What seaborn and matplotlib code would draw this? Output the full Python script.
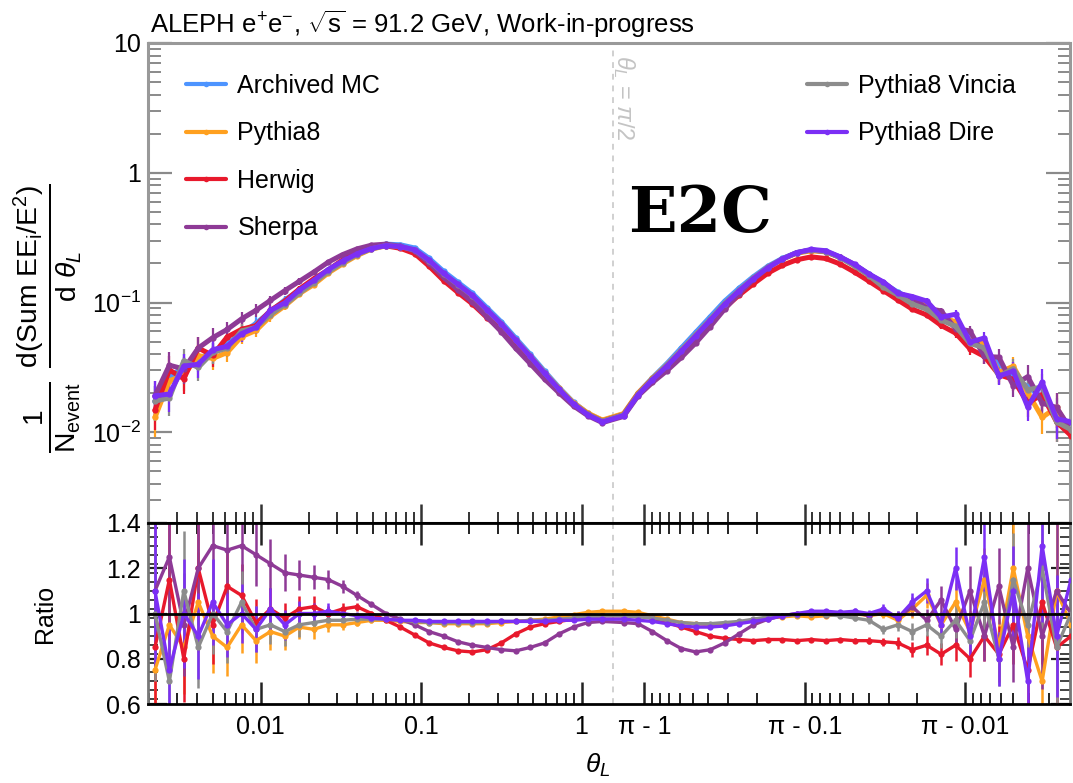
import numpy as np
import pandas as pd
import matplotlib
matplotlib.use("Agg")
import matplotlib.pyplot as plt
import matplotlib.transforms as mtransforms
import seaborn as sns
from matplotlib.ticker import FixedLocator, FixedFormatter, NullFormatter
from matplotlib.lines import Line2D

# ---------------- data ----------------
# bin centres: log10(theta) for the left half, log10(pi - theta) for the right half
log_theta_left = [-2.66, -2.57, -2.48, -2.39, -2.30, -2.21, -2.12, -2.03, -1.94, -1.85,
                  -1.76, -1.67, -1.58, -1.49, -1.40, -1.31, -1.22, -1.13, -1.04, -0.95,
                  -0.86, -0.77, -0.68, -0.59, -0.50, -0.41, -0.32, -0.23, -0.14, -0.05,
                  0.04, 0.13]
log_pim_right = [0.13, 0.04, -0.05, -0.14, -0.23, -0.32, -0.41, -0.50, -0.59, -0.68,
                 -0.77, -0.86, -0.95, -1.04, -1.13, -1.22, -1.31, -1.40, -1.49, -1.58,
                 -1.67, -1.76, -1.85, -1.94, -2.03, -2.12, -2.21, -2.30, -2.39, -2.48,
                 -2.57, -2.66]

# Archived MC, log10 of (1/N dSum/dtheta)
archived_log_left = [-1.76, -1.58, -1.49, -1.43, -1.385, -1.315, -1.24, -1.16, -1.07, -0.98,
                     -0.905, -0.83, -0.75, -0.68, -0.62, -0.575, -0.55, -0.555, -0.58, -0.66,
                     -0.76, -0.845, -0.93, -1.04, -1.15, -1.275, -1.40, -1.53, -1.655, -1.77,
                     -1.855, -1.91]
archived_log_right = [-1.86, -1.70, -1.58, -1.47, -1.35, -1.23, -1.11, -0.99, -0.89, -0.80,
                      -0.72, -0.66, -0.615, -0.595, -0.605, -0.65, -0.71, -0.78, -0.85, -0.92,
                      -0.975, -1.03, -1.09, -1.17, -1.26, -1.37, -1.47, -1.57, -1.65, -1.73,
                      -1.85, -1.98]

# ratios to Archived MC (left half then right half)
ratio_pythia8 = [0.75, 0.95, 0.85, 1.05, 0.90, 0.85, 0.95, 0.88, 0.92, 0.90, 0.94, 0.93, 0.95, 0.95,
                 0.96, 0.97, 0.97, 0.965, 0.96, 0.96, 0.955, 0.955, 0.955, 0.955, 0.96, 0.965, 0.97,
                 0.975, 0.985, 0.995, 1.005, 1.01,
                 1.01, 1.005, 0.99, 0.975, 0.96, 0.955, 0.95, 0.955, 0.96, 0.97, 0.98, 0.985, 0.99,
                 0.985, 0.99, 0.995, 1.0, 0.99, 1.0, 0.97, 1.02, 1.08, 0.95, 1.05, 0.92, 1.15, 0.85,
                 1.2, 0.9, 0.7, 1.1, 0.95]
ratio_herwig = [0.85, 1.15, 0.80, 1.20, 0.95, 1.12, 1.08, 0.96, 1.02, 0.98, 1.02, 1.03, 1.00, 1.02,
                1.03, 1.00, 0.97, 0.94, 0.905, 0.87, 0.85, 0.835, 0.83, 0.84, 0.87, 0.91, 0.94,
                0.955, 0.965, 0.975, 0.985, 0.99,
                0.99, 0.99, 0.98, 0.96, 0.94, 0.92, 0.90, 0.89, 0.885, 0.88, 0.885, 0.885, 0.88,
                0.885, 0.88, 0.885, 0.88, 0.88, 0.875, 0.87, 0.84, 0.86, 0.82, 0.86, 0.80, 0.90,
                0.82, 0.95, 0.75, 1.05, 0.85, 0.90]
ratio_sherpa = [1.10, 1.25, 0.95, 1.20, 1.30, 1.28, 1.30, 1.26, 1.22, 1.18, 1.17, 1.16, 1.15, 1.12,
                1.08, 1.04, 1.00, 0.975, 0.95, 0.92, 0.90, 0.875, 0.86, 0.85, 0.84, 0.835, 0.85,
                0.87, 0.91, 0.94, 0.96, 0.965,
                0.96, 0.955, 0.92, 0.88, 0.845, 0.83, 0.84, 0.87, 0.91, 0.95, 0.975, 0.99, 1.0,
                1.0, 0.995, 1.0, 1.005, 0.99, 1.01, 0.98, 1.03, 0.97, 1.06, 0.93, 1.1, 0.9, 1.12,
                0.85, 1.2, 0.9, 1.1, 1.0]
ratio_vincia = [1.00, 0.70, 1.10, 0.85, 1.00, 0.92, 1.05, 0.93, 0.95, 0.92, 0.95, 0.96, 0.97, 0.97,
                0.975, 0.975, 0.975, 0.97, 0.965, 0.96, 0.96, 0.96, 0.96, 0.96, 0.965, 0.965, 0.97,
                0.97, 0.975, 0.98, 0.985, 0.99,
                0.99, 0.985, 0.98, 0.97, 0.96, 0.955, 0.955, 0.96, 0.965, 0.975, 0.985, 0.99, 0.995,
                1.0, 0.995, 0.99, 0.98, 0.97, 0.93, 0.95, 0.92, 0.95, 0.90, 0.97, 0.88, 1.05, 0.80,
                1.15, 0.95, 1.20, 0.85, 1.00]
ratio_dire = [1.10, 0.75, 1.00, 0.90, 1.05, 0.95, 1.00, 0.93, 1.02, 0.95, 1.00, 1.00, 1.01, 1.00,
              0.99, 0.98, 0.975, 0.97, 0.97, 0.965, 0.965, 0.965, 0.965, 0.965, 0.965, 0.965, 0.965,
              0.965, 0.97, 0.97, 0.975, 0.975,
              0.975, 0.97, 0.965, 0.955, 0.945, 0.94, 0.94, 0.945, 0.955, 0.965, 0.975, 0.99, 1.0,
              1.01, 1.01, 1.005, 1.01, 1.0, 1.02, 0.98, 1.05, 1.10, 0.95, 1.20, 0.90, 1.25, 0.80,
              1.10, 0.70, 1.30, 0.90, 1.15]
rel_err = [0.30, 0.27, 0.24, 0.21, 0.18, 0.15, 0.13, 0.11, 0.09, 0.07, 0.055, 0.045, 0.035, 0.025,
           0.018, 0.012, 0.008, 0.006, 0.005, 0.004, 0.004, 0.004, 0.004, 0.004, 0.004, 0.004,
           0.004, 0.004, 0.004, 0.004, 0.004, 0.004,
           0.004, 0.004, 0.004, 0.004, 0.004, 0.004, 0.004, 0.004, 0.004, 0.004, 0.004, 0.004,
           0.005, 0.006, 0.008, 0.010, 0.012, 0.016, 0.020, 0.030, 0.040, 0.050, 0.060, 0.080,
           0.100, 0.120, 0.150, 0.180, 0.220, 0.260, 0.300, 0.350]

generators = ["Archived MC", "Pythia8", "Herwig", "Sherpa", "Pythia8 Vincia", "Pythia8 Dire"]
colors = ["#4d94ff", "#ffa01f", "#e8192c", "#8e3a96", "#8c8c8c", "#7b2ff5"]
x_tick_labels = ["0.01", "0.1", "1", "π - 1", "π - 0.1", "π - 0.01"]

# ---------------- build table ----------------
theta = np.concatenate([10.0 ** np.array(log_theta_left),
                        np.pi - 10.0 ** np.array(log_pim_right)])
archived = 10.0 ** np.concatenate([archived_log_left, archived_log_right])
ratios = {"Archived MC": np.ones_like(theta), "Pythia8": np.array(ratio_pythia8),
          "Herwig": np.array(ratio_herwig), "Sherpa": np.array(ratio_sherpa),
          "Pythia8 Vincia": np.array(ratio_vincia), "Pythia8 Dire": np.array(ratio_dire)}
err = np.array(rel_err)
frames = []
for g in generators:
    r = ratios[g]
    frames.append(pd.DataFrame({"theta": theta, "value": archived * r, "ratio": r,
                                "err": err, "gen": g}))
df = pd.concat(frames, ignore_index=True)
palette = dict(zip(generators, colors))

# ---------------- style ----------------
sns.set_theme(style="ticks")
plt.rcParams["font.family"] = ["Liberation Sans", "DejaVu Sans"]
plt.rcParams["mathtext.fontset"] = "custom"
plt.rcParams["mathtext.rm"] = "Liberation Sans"
plt.rcParams["mathtext.it"] = "Liberation Sans:italic"
plt.rcParams["mathtext.bf"] = "Liberation Sans:bold"
for k in ("text.color", "axes.labelcolor", "xtick.labelcolor", "ytick.labelcolor"):
    plt.rcParams[k] = "black"

HALF = np.log10(np.pi / 2)


def fwd(t):
    t = np.asarray(t, dtype=float)
    with np.errstate(all="ignore"):
        a = np.log10(t)
        b = 2 * HALF - np.log10(np.pi - t)
    return np.where(t <= np.pi / 2, a, b)


def inv(u):
    u = np.asarray(u, dtype=float)
    with np.errstate(all="ignore"):
        a = 10.0 ** u
        b = np.pi - 10.0 ** (2 * HALF - u)
    return np.where(u <= HALF, a, b)


W, H = 1073, 783
fig = plt.figure(figsize=(W / 100, H / 100), dpi=100)
ax = fig.add_axes([148 / W, 1 - 523 / H, 922 / W, 480 / H])
axr = fig.add_axes([148 / W, 1 - 704 / H, 922 / W, 181 / H])

# ---------------- top panel ----------------
for g in generators:
    d = df[df.gen == g]
    ax.errorbar(d.theta, d.value, yerr=d.value * d.err, fmt="none", ecolor=palette[g],
                elinewidth=1.6, zorder=2)
sns.lineplot(data=df, x="theta", y="value", hue="gen", hue_order=generators, palette=palette,
             estimator=None, sort=True, marker="o", markersize=4.5, markeredgewidth=0,
             linewidth=3.6, legend=False, ax=ax, zorder=3)

# ---------------- ratio panel ----------------
dr = df[df.gen != "Archived MC"]
for g in generators[1:]:
    d = dr[dr.gen == g]
    axr.errorbar(d.theta, d.ratio, yerr=d.ratio * d.err, fmt="none", ecolor=palette[g],
                 elinewidth=1.8, zorder=2)
sns.lineplot(data=dr, x="theta", y="ratio", hue="gen", hue_order=generators[1:],
             palette=palette, estimator=None, sort=True, marker="o", markersize=4.5,
             markeredgewidth=0, linewidth=2.4, legend=False, ax=axr, zorder=3)
axr.axhline(1.0, color="black", lw=2, zorder=6)

# ---------------- axes scales / ticks ----------------
major_x = [0.01, 0.1, 1.0, np.pi - 1, np.pi - 0.1, np.pi - 0.01]
minor_left = [k * 10.0 ** e for e in (-3, -2, -1) for k in range(2, 10)]
minor_x = minor_left + [np.pi - m for m in minor_left]
xlim = (0.00198, np.pi - 0.00222)

for a in (ax, axr):
    a.set_xscale("function", functions=(fwd, inv))
    a.set_xlim(*xlim)
    a.xaxis.set_major_locator(FixedLocator(major_x))
    a.xaxis.set_minor_locator(FixedLocator(minor_x))
    a.axvline(np.pi / 2, color="#d0d0d0", lw=1.4, ls=(0, (3, 3)), zorder=1)
    a.set_xlabel("")
    a.set_ylabel("")

ax.set_yscale("log")
ax.set_ylim(0.002, 10)
ax.yaxis.set_major_locator(FixedLocator([0.01, 0.1, 1, 10]))
ax.yaxis.set_major_formatter(FixedFormatter([r"$10^{-2}$", r"$10^{-1}$", "1", "10"]))
ax.yaxis.set_minor_locator(FixedLocator([k * 10.0 ** e for e in (-3, -2, -1, 0) for k in range(2, 10)]))
ax.yaxis.set_minor_formatter(NullFormatter())
ax.xaxis.set_major_formatter(NullFormatter())
ax.tick_params(axis="y", which="both", direction="in", left=True, right=True,
               color="#8a8a8a", labelcolor="black", labelsize=18, pad=5)
ax.tick_params(axis="y", which="major", length=17, width=1.6)
ax.tick_params(axis="y", which="minor", length=9, width=1.4)
ax.tick_params(axis="x", which="both", direction="in", bottom=True, top=False,
               labelbottom=False, color="#333333")
ax.tick_params(axis="x", which="major", length=14, width=1.8)
ax.tick_params(axis="x", which="minor", length=8, width=1.4)
for s in ax.spines.values():
    s.set_color("#999999")
    s.set_linewidth(2.2)
ax.spines["bottom"].set_color("black")

axr.set_ylim(0.6, 1.4)
axr.yaxis.set_major_locator(FixedLocator([0.6, 0.8, 1.0, 1.2, 1.4]))
axr.yaxis.set_major_formatter(FixedFormatter(["0.6", "0.8", "1", "1.2", "1.4"]))
axr.yaxis.set_minor_locator(FixedLocator(list(np.arange(0.62, 1.4, 0.04))))
axr.xaxis.set_major_formatter(FixedFormatter(x_tick_labels))
axr.xaxis.set_minor_formatter(NullFormatter())
axr.tick_params(axis="both", which="both", direction="in", top=True, bottom=True,
                left=True, right=True, labelsize=18, color="#222222", labelcolor="black")
axr.tick_params(axis="x", which="major", length=16, width=1.8, pad=8)
axr.tick_params(axis="x", which="minor", length=8, width=1.4)
axr.tick_params(axis="y", which="major", length=14, width=1.6, pad=5)
axr.tick_params(axis="y", which="minor", length=7, width=1.2)
for s in axr.spines.values():
    s.set_color("black")
    s.set_linewidth(2.0)
axr.spines["left"].set_color("#777777")
axr.spines["right"].set_color("#777777")

# ---------------- legends ----------------
def handle(c):
    return Line2D([], [], color=c, lw=3, marker="o", markersize=4, markeredgewidth=0)


hl = [handle(palette[g]) for g in generators]
leg_kw = dict(loc="upper left", frameon=False, fontsize=18, handlelength=1.6,
              handletextpad=0.45, labelspacing=0.94, borderaxespad=0, borderpad=0.2)
leg1 = ax.legend(hl[:4], generators[:4], bbox_to_anchor=(0.036, 0.946), **leg_kw)
ax.add_artist(leg1)
ax.legend(hl[4:], generators[4:], bbox_to_anchor=(0.709, 0.946), **leg_kw)

# ---------------- texts ----------------
fig.text(150 / W, 1 - 33 / H,
         r"ALEPH e$^{+}$e$^{-}$, $\sqrt{\mathrm{s}}$ = 91.2 GeV, Work-in-progress",
         fontsize=18.5, ha="left", va="baseline")
fig.text(628 / W, 1 - 232 / H, "E2C", fontsize=46, fontweight="bold", family="DejaVu Serif",
         color="black", ha="left", va="baseline")
trans = mtransforms.blended_transform_factory(ax.transData, ax.transAxes)
ax.text(1.80, 0.975, r"$\theta_{L}$ = $\pi/2$", transform=trans, rotation=-90, ha="center",
        va="top", color="#c4c4c4", fontsize=17)
fig.text(48 / W, 1 - 318 / H,
         r"$\frac{1}{\mathrm{N_{event}}}\ \frac{\mathrm{d(Sum\ EE_{i}/E^{2})}}{\mathrm{d}\ \theta_{L}}$",
         rotation=90, ha="center", va="center", fontsize=29)
fig.text(45 / W, 1 - 614 / H, "Ratio", rotation=90, ha="center", va="center", fontsize=18)
fig.text(598 / W, 1 - 765 / H, r"$\theta_{L}$", ha="center", va="center", fontsize=19)

fig.savefig("out.png", dpi=100)
